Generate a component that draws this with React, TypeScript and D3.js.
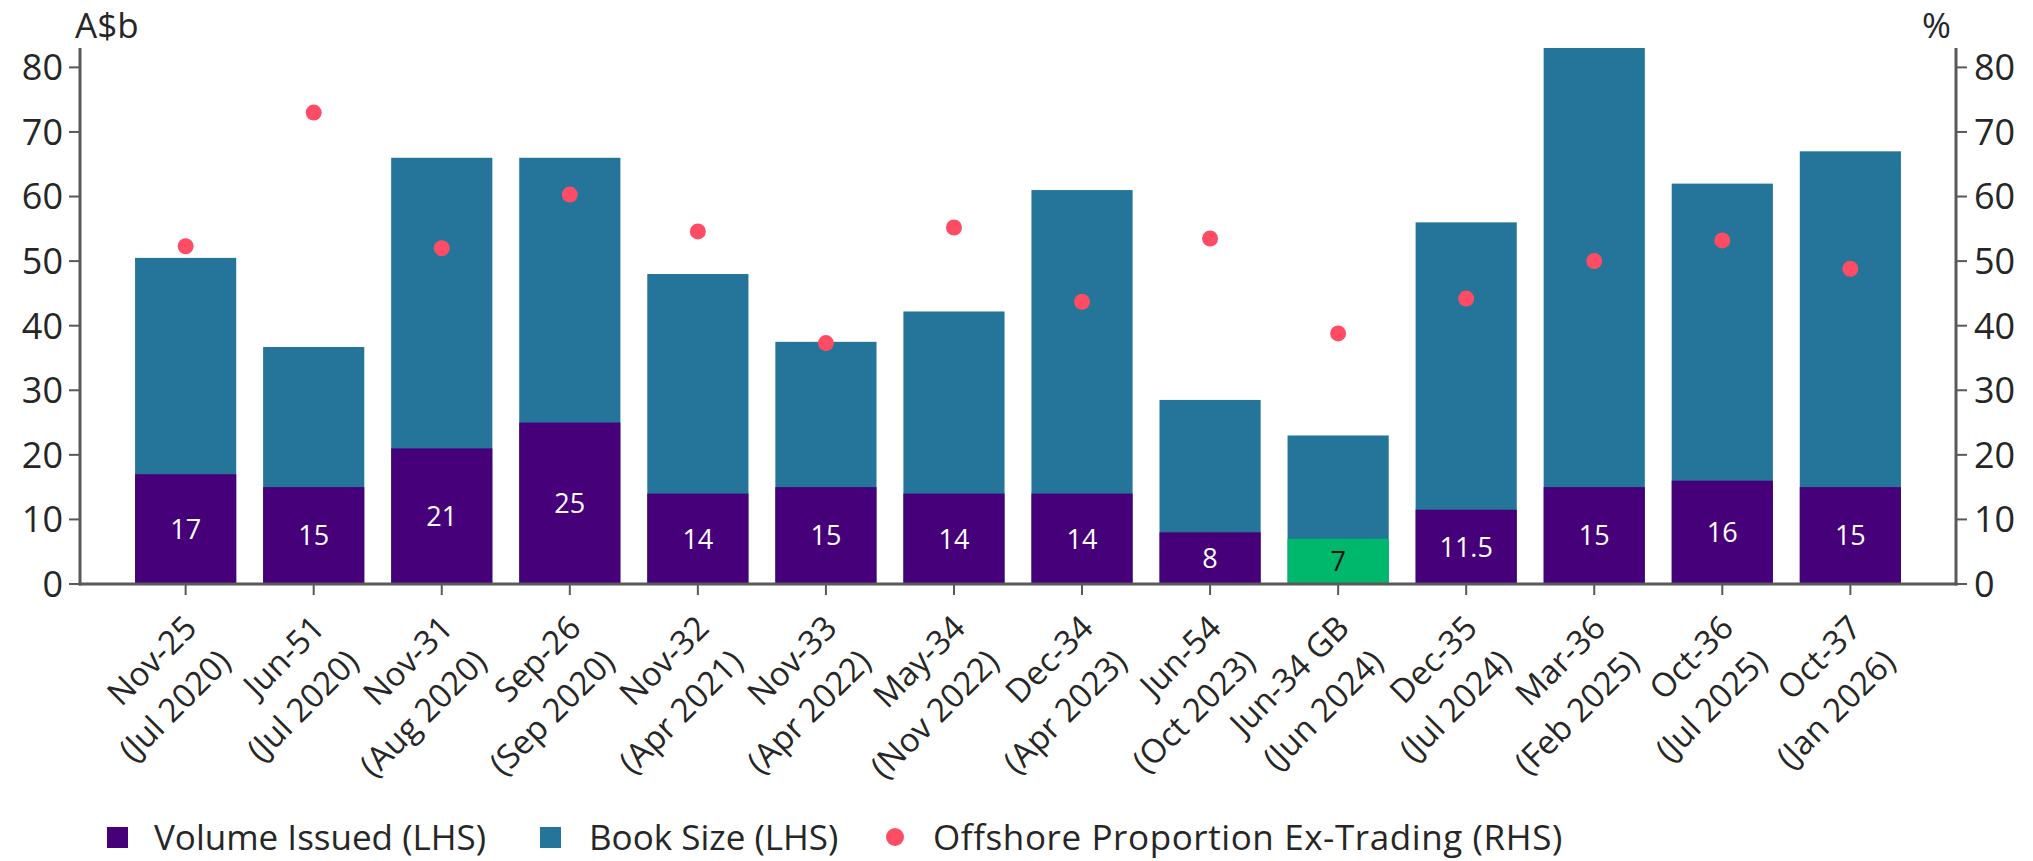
import React from "react";
import * as d3 from "d3";

const categories = ["Nov-25","Jun-51","Nov-31","Sep-26","Nov-32","Nov-33","May-34","Dec-34","Jun-54","Jun-34 GB","Dec-35","Mar-36","Oct-36","Oct-37"];
const issueDates = ["(Jul 2020)","(Jul 2020)","(Aug 2020)","(Sep 2020)","(Apr 2021)","(Apr 2022)","(Nov 2022)","(Apr 2023)","(Oct 2023)","(Jun 2024)","(Jul 2024)","(Feb 2025)","(Jul 2025)","(Jan 2026)"];
const volumeIssued = [17,15,21,25,14,15,14,14,8,7,11.5,15,16,15];
const volumeLabels = ["17","15","21","25","14","15","14","14","8","7","11.5","15","16","15"];
const bookSize = [50.5,36.7,66,66,48,37.5,42.2,61,28.5,23,56,83,62,67];
const offshoreProportion = [52.3,73,52,60.3,54.6,37.3,55.2,43.7,53.5,38.8,44.2,50,53.2,48.8];
const greenBonds = ["Jun-34 GB"];
const yTicks = [0,10,20,30,40,50,60,70,80];

const W = 2033, H = 861;
const L = 80, R = 1956, TOP = 48, BASE = 584;
const PURPLE = "#46007A", TEAL = "#247599", GREEN = "#00B86B", RED = "#FF4C65", AXIS = "#595959", TEXT = "#262626";
const FONT = "'Open Sans', 'Noto Sans', sans-serif";

export default function App() {
  const x = d3.scaleBand<string>().domain(categories).range([L, R]).paddingInner(0.21).paddingOuter(0.43);
  const yL = d3.scaleLinear().domain([0, 83]).range([BASE, TOP]);
  const yR = d3.scaleLinear().domain([0, 83]).range([BASE, TOP]);
  const bw = x.bandwidth();

  return (
    <div style={{ position: "absolute", left: 0, top: 0 }}>
      <svg width={W} height={H} style={{ display: "block", fontFamily: FONT }}>
        <rect width={W} height={H} fill="#fff" />
        {/* bars */}
        {categories.map((c, i) => (
          <g key={c}>
            <rect x={x(c)} y={yL(bookSize[i])} width={bw} height={yL(0) - yL(bookSize[i])} fill={TEAL} />
            <rect x={x(c)} y={yL(volumeIssued[i])} width={bw} height={yL(0) - yL(volumeIssued[i])} fill={greenBonds.includes(c) ? GREEN : PURPLE} />
            <text x={(x(c) as number) + bw / 2} y={(yL(volumeIssued[i]) + yL(0)) / 2} dy="0.36em" textAnchor="middle" fontSize={27} fill={greenBonds.includes(c) ? "#111" : "#fff"}>{volumeLabels[i]}</text>
          </g>
        ))}
        {/* dots */}
        {categories.map((c, i) => (
          <circle key={c} cx={(x(c) as number) + bw / 2} cy={yR(offshoreProportion[i])} r={8} fill={RED} />
        ))}
        {/* left axis */}
        <line x1={L} x2={L} y1={TOP} y2={BASE + 1.5} stroke={AXIS} strokeWidth={3} />
        {yTicks.map(t => (
          <g key={"l" + t}>
            <line x1={L - 11} x2={L} y1={yL(t)} y2={yL(t)} stroke={AXIS} strokeWidth={2} />
            <text x={L - 17} y={yL(t)} dy="0.36em" textAnchor="end" fontSize={36} fill={TEXT}>{t}</text>
          </g>
        ))}
        <text x={75} y={38} fontSize={35} fill={TEXT}>A$b</text>
        {/* right axis */}
        <line x1={R} x2={R} y1={TOP} y2={BASE + 1.5} stroke={AXIS} strokeWidth={3} />
        {yTicks.map(t => (
          <g key={"r" + t}>
            <line x1={R} x2={R + 11} y1={yR(t)} y2={yR(t)} stroke={AXIS} strokeWidth={2} />
            <text x={R + 18} y={yR(t)} dy="0.36em" textAnchor="start" fontSize={36} fill={TEXT}>{t}</text>
          </g>
        ))}
        <text x={1951} y={38} fontSize={35} textAnchor="end" fill={TEXT}>%</text>
        {/* bottom axis */}
        <line x1={L - 1.5} x2={R + 1.5} y1={BASE} y2={BASE} stroke={AXIS} strokeWidth={3} />
        {categories.map((c, i) => {
          const cx = (x(c) as number) + bw / 2;
          return (
            <g key={"x" + c}>
              <line x1={cx} x2={cx} y1={BASE} y2={BASE + 11} stroke={AXIS} strokeWidth={2} />
              <g transform={`translate(${cx + 13},${BASE + 46}) rotate(-45)`}>
                <text textAnchor="end" fontSize={33} fill={TEXT}>
                  <tspan x={0} y={0}>{c}</tspan>
                  <tspan x={0} y={48}>{issueDates[i]}</tspan>
                </text>
              </g>
            </g>
          );
        })}
        {/* legend */}
        <rect x={107} y={827} width={21} height={21} fill={PURPLE} />
        <text x={154} y={838} dy="0.35em" fontSize={35} fill={TEXT}>Volume Issued (LHS)</text>
        <rect x={540} y={827} width={21} height={21} fill={TEAL} />
        <text x={589} y={838} dy="0.35em" fontSize={35} fill={TEXT}>Book Size (LHS)</text>
        <circle cx={895} cy={837} r={9} fill={RED} />
        <text x={933} y={838} dy="0.35em" fontSize={35} letterSpacing={0.6} fill={TEXT}>Offshore Proportion Ex-Trading (RHS)</text>
      </svg>
    </div>
  );
}
